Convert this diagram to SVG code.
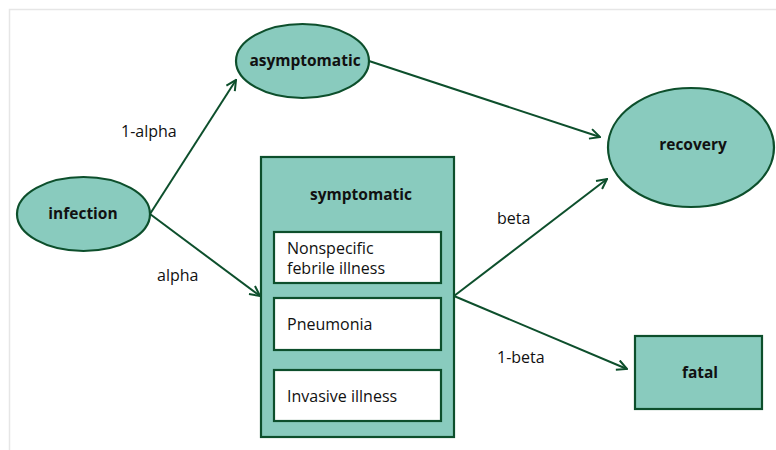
<svg xmlns="http://www.w3.org/2000/svg" width="776" height="450" viewBox="0 0 776 450">
<defs>
<style>
.n{fill:#89cbbe;stroke:#0d4f2c;stroke-width:2.2}
.b{fill:#fff;stroke:#0d4f2c;stroke-width:2.2}
.t{font-family:"Open Sans","Noto Sans",sans-serif;font-size:15.5px;font-weight:bold;fill:#111;text-anchor:middle}
.r{font-family:"Open Sans","Noto Sans",sans-serif;font-size:16px;fill:#111}
.c{fill:none;stroke:#0d4f2c;stroke-width:2}
</style>
<marker id="ah" viewBox="0 0 12 12" refX="11" refY="6" markerWidth="12" markerHeight="12" markerUnits="userSpaceOnUse" orient="auto">
<path d="M1,1 L11,6 L1,11" fill="none" stroke="#0d4f2c" stroke-width="2"/>
</marker>
</defs>
<rect x="0" y="0" width="776" height="450" fill="#fff"/>
<path d="M9.5,450 V9.5 H776" fill="none" stroke="#e6e6e6" stroke-width="1.5"/>
<g id="connectors">
<line class="c" x1="150" y1="214" x2="236" y2="80" marker-end="url(#ah)"/>
<line class="c" x1="150" y1="214" x2="260" y2="296" marker-end="url(#ah)"/>
<line class="c" x1="369" y1="61" x2="600" y2="137" marker-end="url(#ah)"/>
<line class="c" x1="454" y1="296" x2="607" y2="179" marker-end="url(#ah)"/>
<line class="c" x1="454" y1="296" x2="627" y2="369" marker-end="url(#ah)"/>
<text class="r" x="121" y="137">1-alpha</text>
<text class="r" x="157" y="281">alpha</text>
<text class="r" x="497" y="224">beta</text>
<text class="r" x="497" y="363">1-beta</text>
</g>
<g id="infection">
<ellipse class="n" cx="83.5" cy="214" rx="66.5" ry="37"/>
<text class="t" x="83" y="219">infection</text>
</g>
<g id="asymptomatic">
<ellipse class="n" cx="302.5" cy="61" rx="66.5" ry="37"/>
<text class="t" x="305" y="66">asymptomatic</text>
</g>
<g id="recovery">
<ellipse class="n" cx="691" cy="147.5" rx="83" ry="59.5"/>
<text class="t" x="693" y="150">recovery</text>
</g>
<g id="symptomatic">
<rect class="n" x="261" y="157" width="193" height="280"/>
<text class="t" x="361" y="200">symptomatic</text>
<rect class="b" x="274" y="232" width="167" height="51"/>
<text class="r" x="287" y="254">Nonspecific</text>
<text class="r" x="287" y="274">febrile illness</text>
<rect class="b" x="274" y="298" width="167" height="52"/>
<text class="r" x="287" y="330">Pneumonia</text>
<rect class="b" x="274" y="370" width="167" height="51"/>
<text class="r" x="287" y="402">Invasive illness</text>
</g>
<g id="fatal">
<rect class="n" x="635" y="336" width="127" height="73"/>
<text class="t" x="700" y="378">fatal</text>
</g>
</svg>
